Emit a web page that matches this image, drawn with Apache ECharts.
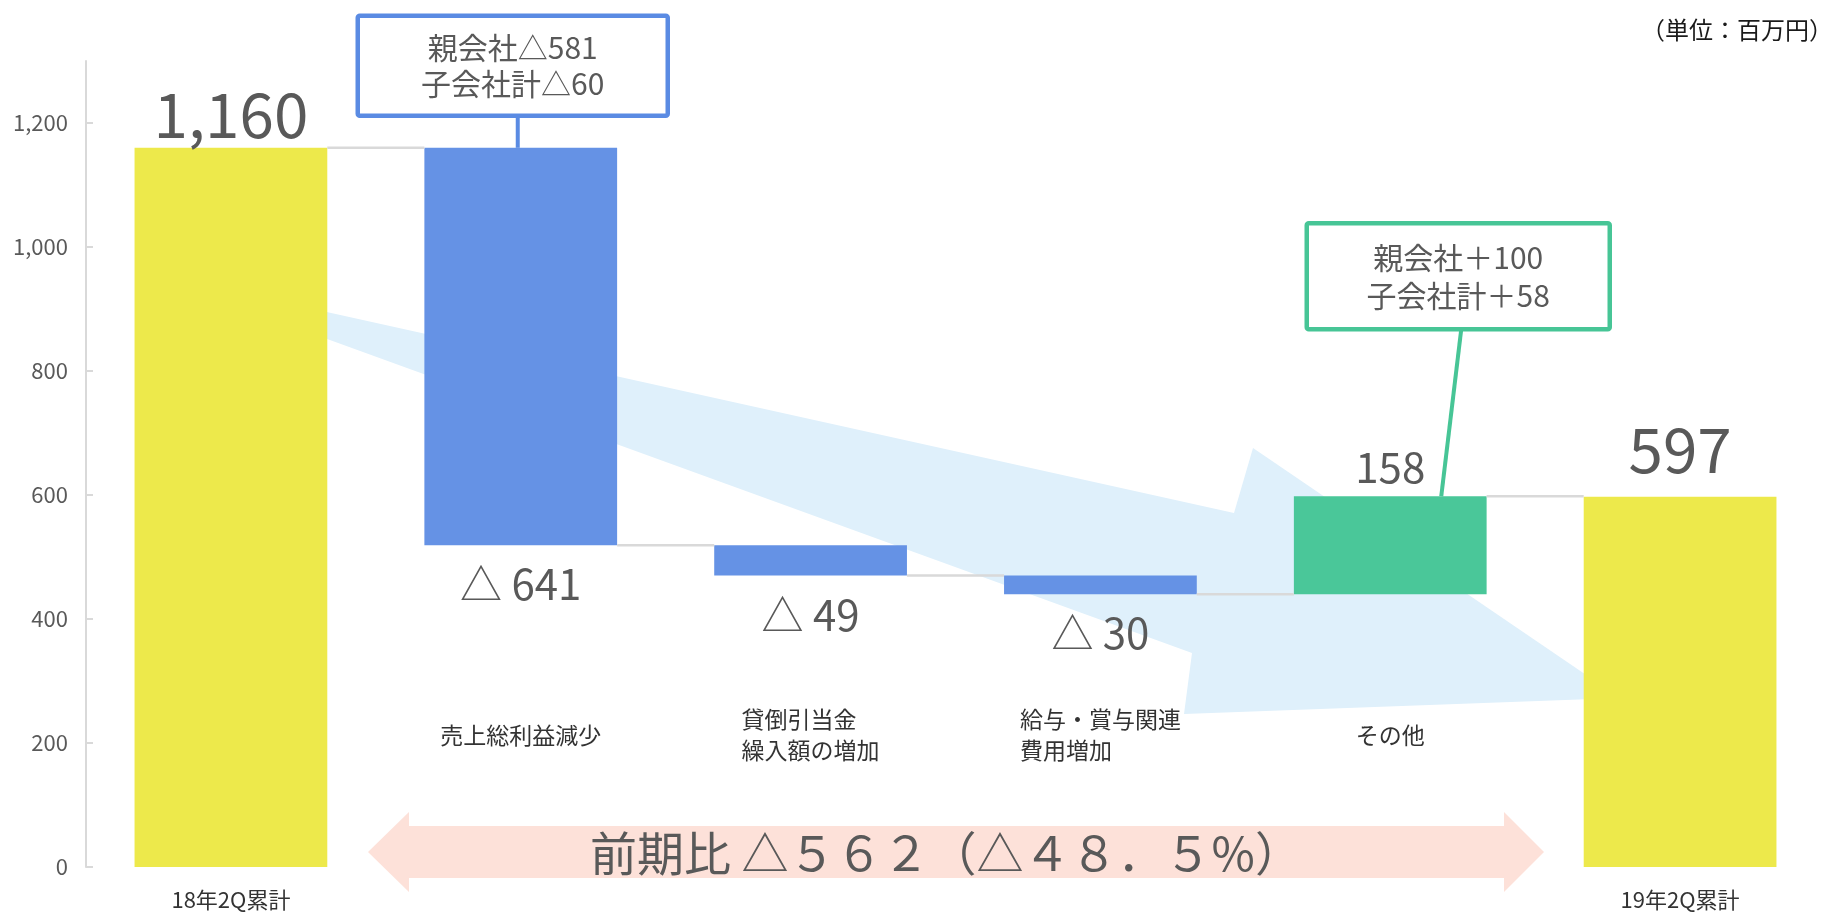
<!DOCTYPE html>
<html>
<head>
<meta charset="utf-8" />
<title>営業利益 増減要因</title>
<script src="https://cdn.jsdelivr.net/npm/echarts@6/dist/echarts.min.js"></script>
<style>
    html, body { margin: 0; padding: 0; background: #fff; }
    #main { width: 1829px; height: 912px; }
</style>
</head>
<body>
<div id="main"></div>
<script type="text/javascript">
    // データ
    var categories = ['18年2Q累計', '売上総利益減少', '貸倒引当金\n繰入額の増加', '給与・賞与関連\n費用増加', 'その他', '19年2Q累計'];
    var startTotal = 1160;
    var endTotal = 597;
    var changes = [-641, -49, -30, 158];
    var yTicks = [0, 200, 400, 600, 800, 1000, 1200];
    var calloutIndex = [1, 4];
    var calloutText = ['親会社△581\n子会社計△60', '親会社＋100\n子会社計＋58'];
    var unitText = '（単位：百万円）';
    var summaryText = '前期比 △５６２（△４８．５%）';

    var FONT = "'Noto Sans CJK JP', 'Noto Sans', sans-serif";
    var n = categories.length;
    var barRatio = 0.665;

    // 滝グラフ用に積み上げを作る
    var baseData = [0], totalData = [startTotal], downData = ['-'], upData = ['-'];
    var tops = [startTotal];
    var steps = [[0, startTotal]];
    var level = startTotal;
    changes.forEach(function (c, k) {
        var prev = level;
        level = prev + c;
        baseData.push(Math.min(prev, level));
        totalData.push('-');
        downData.push(c < 0 ? -c : '-');
        upData.push(c > 0 ? c : '-');
        tops.push(Math.max(prev, level));
        steps.push([k + 1, level]);
    });
    baseData.push(0);
    totalData.push(endTotal);
    downData.push('-');
    upData.push('-');
    tops.push(endTotal);

    var calloutStyles = [
        { color: '#5a8be3', boxDx: -8, rise: 32, w: 310, h: 100, lineDx1: -3, lineDx2: -3, lineHeight: 36 },
        { color: '#47c596', boxDx: 68, rise: 167, w: 303, h: 106, lineDx1: 71, lineDx2: 51, lineHeight: 38 }
    ];

    function fmt(v) {
        return Number(v).toLocaleString('en-US');
    }

    function padLines(text) {
        var lines = text.split('\n');
        var max = 0;
        lines.forEach(function (l) { max = Math.max(max, l.length); });
        return lines.map(function (l) {
            while (l.length < max) l += '\u3000';
            return l;
        }).join('\n');
    }

    var myChart = echarts.init(document.getElementById('main'));

    var option = {
        animation: false,
        backgroundColor: '#fff',
        textStyle: { fontFamily: FONT },
        title: {
            text: unitText,
            right: -4,
            top: 18,
            padding: 0,
            textStyle: { fontSize: 24, fontWeight: 'normal', color: '#1a1a1a', fontFamily: FONT }
        },
        grid: { left: 86, right: 4, top: 61, bottom: 45, outerBoundsMode: 'none' },
        xAxis: [
            {
                type: 'category',
                data: categories,
                axisLine: { show: false },
                axisTick: { show: false },
                axisLabel: {
                    interval: 0,
                    margin: 33,
                    verticalAlign: 'middle',
                    fontSize: 22,
                    color: '#333',
                    fontFamily: FONT,
                    formatter: function (v, i) { return (i === 0 || i === n - 1) ? v : ''; }
                }
            },
            {
                type: 'category',
                data: categories,
                position: 'bottom',
                offset: -132,
                axisLine: { show: false },
                axisTick: { show: false },
                splitLine: { show: false },
                axisLabel: {
                    interval: 0,
                    margin: 0,
                    verticalAlign: 'middle',
                    fontSize: 23,
                    lineHeight: 31,
                    color: '#333',
                    fontFamily: FONT,
                    formatter: function (v, i) { return (i === 0 || i === n - 1) ? '' : padLines(v); }
                }
            }
        ],
        yAxis: {
            type: 'value',
            min: yTicks[0],
            max: 1300,
            interval: yTicks[1] - yTicks[0],
            axisLine: { show: true, lineStyle: { color: '#d9d9d9', width: 2 } },
            axisTick: { show: true, inside: true, length: 7, lineStyle: { color: '#d9d9d9', width: 2 } },
            splitLine: { show: false },
            axisLabel: {
                margin: 18,
                fontSize: 22,
                color: '#595959',
                fontFamily: FONT,
                showMaxLabel: false,
                formatter: function (v) { return fmt(v); }
            }
        },
        graphic: [
            {
                type: 'polygon',
                z: 1,
                silent: true,
                shape: { points: [[250, 295], [1234, 513], [1253, 448], [1620, 698], [1184, 714], [1192, 653], [250, 311]] },
                style: { fill: '#dff0fb' }
            },
            {
                type: 'polygon',
                z: 1,
                silent: true,
                shape: { points: [[368, 852], [409, 812], [409, 826], [1504, 826], [1504, 812], [1544, 852], [1504, 892], [1504, 878], [409, 878], [409, 892]] },
                style: { fill: '#fde1d9' }
            },
            {
                type: 'text',
                z: 5,
                silent: true,
                x: 946,
                y: 853,
                style: {
                    text: summaryText,
                    align: 'center',
                    verticalAlign: 'middle',
                    fontSize: 47,
                    fontFamily: FONT,
                    fill: '#595959'
                }
            }
        ],
        series: [
            {
                type: 'bar',
                stack: 'w',
                barWidth: (barRatio * 100) + '%',
                itemStyle: { color: 'rgba(0,0,0,0)' },
                silent: true,
                data: baseData
            },
            {
                type: 'bar',
                stack: 'w',
                itemStyle: { color: '#ede94b' },
                label: {
                    show: true,
                    position: 'top',
                    fontSize: 62,
                    color: '#595959',
                    fontFamily: FONT,
                    formatter: function (p) { return fmt(p.value); }
                },
                data: totalData.map(function (v, i) {
                    if (i === n - 1) return { value: v, label: { distance: 16 } };
                    return { value: v, label: { distance: 2 } };
                })
            },
            {
                type: 'bar',
                stack: 'w',
                itemStyle: { color: '#6592e5' },
                label: {
                    show: true,
                    position: 'bottom',
                    distance: 18,
                    fontSize: 42,
                    color: '#595959',
                    fontFamily: FONT,
                    formatter: function (p) { return '△ ' + p.value; }
                },
                data: downData
            },
            {
                type: 'bar',
                stack: 'w',
                itemStyle: { color: '#4ac799' },
                label: {
                    show: true,
                    position: 'top',
                    distance: 8,
                    fontSize: 42,
                    color: '#595959',
                    fontFamily: FONT
                },
                data: upData
            },
            {
                // 棒と棒をつなぐ線
                type: 'custom',
                z: 3,
                silent: true,
                encode: { x: 0, y: 1 },
                data: steps,
                renderItem: function (params, api) {
                    var p = api.coord([api.value(0), api.value(1)]);
                    var band = api.size([1, 0])[0];
                    var half = band * barRatio / 2;
                    return {
                        type: 'line',
                        shape: { x1: p[0] + half, y1: p[1], x2: p[0] + band - half, y2: p[1] },
                        style: { stroke: '#d9d9d9', lineWidth: 2.5 }
                    };
                }
            },
            {
                // 吹き出し
                type: 'custom',
                z: 6,
                silent: true,
                encode: { x: 0, y: 1 },
                data: calloutIndex.map(function (c, k) { return [c, tops[c], k]; }),
                renderItem: function (params, api) {
                    var k = api.value(2);
                    var st = calloutStyles[k];
                    var p = api.coord([api.value(0), api.value(1)]);
                    var cx = p[0] + st.boxDx;
                    var bottom = p[1] - st.rise;
                    var top = bottom - st.h;
                    return {
                        type: 'group',
                        children: [
                            {
                                type: 'line',
                                shape: { x1: p[0] + st.lineDx1, y1: bottom, x2: p[0] + st.lineDx2, y2: p[1] },
                                style: { stroke: st.color, lineWidth: 4 }
                            },
                            {
                                type: 'rect',
                                shape: { x: cx - st.w / 2, y: top, width: st.w, height: st.h, r: 2 },
                                style: { fill: '#fff', stroke: st.color, lineWidth: 4.5 }
                            },
                            {
                                type: 'text',
                                style: {
                                    text: calloutText[k],
                                    x: cx,
                                    y: top + st.h / 2,
                                    align: 'center',
                                    verticalAlign: 'middle',
                                    fontSize: 30,
                                    lineHeight: st.lineHeight,
                                    fontFamily: FONT,
                                    fill: '#595959'
                                }
                            }
                        ]
                    };
                }
            }
        ]
    };

    myChart.setOption(option);
</script>
</body>
</html>
